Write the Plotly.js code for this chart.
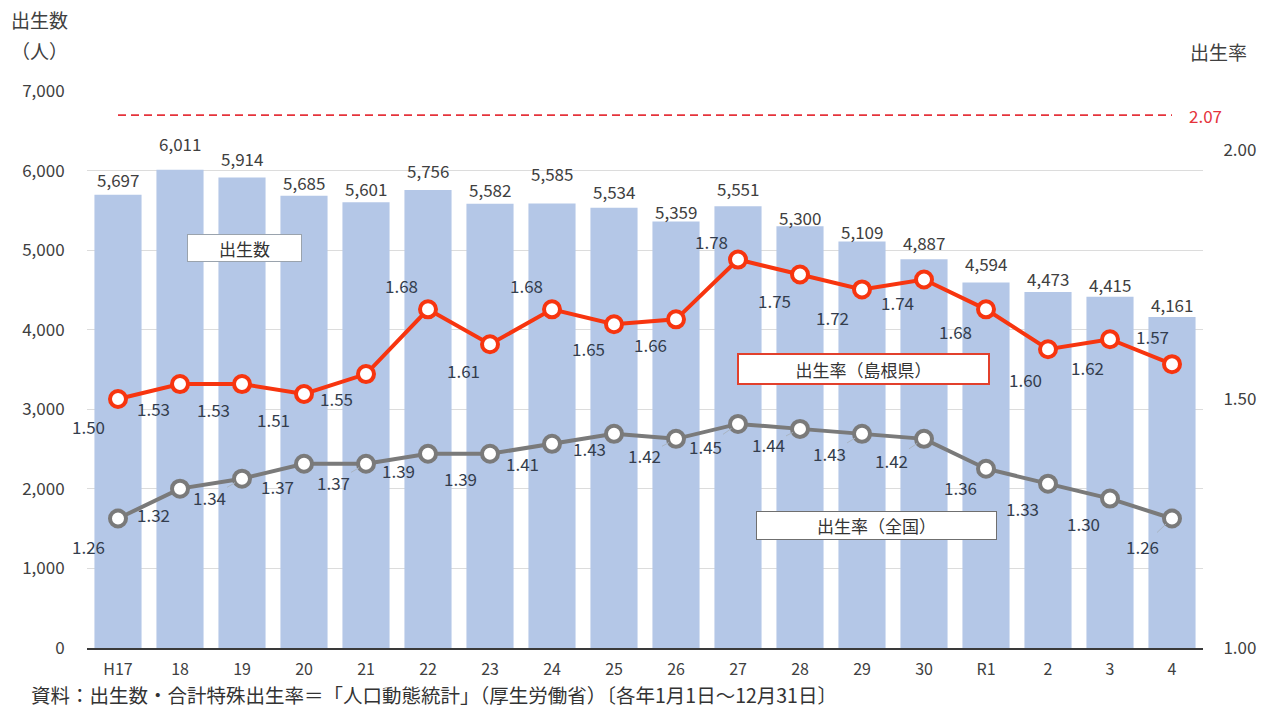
<!DOCTYPE html>
<html>
<head>
<meta charset="utf-8">
<script src="https://cdn.plot.ly/plotly-3.0.1.min.js"></script>
<style>
  html, body { margin: 0; padding: 0; background: #ffffff; }
  #chart { width: 1263px; height: 710px; }
</style>
</head>
<body>
<div id="chart"></div>
<script>
// ---- data ----
const categories = ['H17','18','19','20','21','22','23','24','25','26','27','28','29','30','R1','2','3','4'];
const births = [5697, 6011, 5914, 5685, 5601, 5756, 5582, 5585, 5534, 5359, 5551, 5300, 5109, 4887, 4594, 4473, 4415, 4161];
const rateShimane = [1.50, 1.53, 1.53, 1.51, 1.55, 1.68, 1.61, 1.68, 1.65, 1.66, 1.78, 1.75, 1.72, 1.74, 1.68, 1.60, 1.62, 1.57];
const rateNational = [1.26, 1.32, 1.34, 1.37, 1.37, 1.39, 1.39, 1.41, 1.43, 1.42, 1.45, 1.44, 1.43, 1.42, 1.36, 1.33, 1.30, 1.26];
const replacementRate = [2.07, 2.07];
const replacementSpan = [categories[0], categories[categories.length - 1]];

// ---- label placement (pixel offsets from each point) ----
const barLabelLift = [15, 26, 19, 13, 14, 19, 14, 30, 16, 10, 18, 9, 10, 17, 19, 14, 12, 12];
const shimaneDx = [-30, -27, -29, -31, -30, -27, -27, -26, -26, -26, -27, -26, -30, -27, -31, -23, -23, -20];
const shimaneDy = [ 27,  24,  25,  25,  24, -24,  26, -24,  24,  25, -18,  26,  28,  23,  22,  30,  28, -28];
const nationalDx = [-30, -27, -33, -27, -33, -30, -30, -30, -25, -32, -33, -32, -33, -33, -26, -26, -27, -30];
const nationalDy = [ 28,  26,  19,  23,  19,  17,  25,  20,  15,  17,  23,  16,  20,  22,  19,  25,  25,  28];
const nationalLeader = [false, false, true, false, true, false, false, false, false, true, true, true, true, true, false, false, false, true];

// ---- layout geometry ----
const W = 1263, H = 710;
const M = {l: 87, r: 60, t: 91, b: 62};
const PW = W - M.l - M.r, PH = H - M.t - M.b;
const px = v => (v - M.l) / PW;
const py = v => (H - M.b - v) / PH;
const FONT = '"Noto Sans CJK JP", "Noto Sans", sans-serif';
const RED = '#f7350f';
const GRAY = '#7a7a7a';

const traces = [
  {
    type: 'bar', x: categories, y: births, yaxis: 'y',
    marker: {color: '#b4c7e7'}, hoverinfo: 'x+y', showlegend: false
  },
  {
    type: 'scatter', mode: 'lines', x: replacementSpan, y: replacementRate, yaxis: 'y2',
    line: {color: '#e5333b', width: 1.6, dash: '8px,5px'}, showlegend: false, hoverinfo: 'skip'
  },
  {
    type: 'scatter', mode: 'lines+markers', x: categories, y: rateNational, yaxis: 'y2',
    line: {color: GRAY, width: 4},
    marker: {size: 16, color: '#ffffff', line: {color: GRAY, width: 4}},
    showlegend: false
  },
  {
    type: 'scatter', mode: 'lines+markers', x: categories, y: rateShimane, yaxis: 'y2',
    line: {color: RED, width: 4},
    marker: {size: 16, color: '#ffffff', line: {color: RED, width: 4}},
    showlegend: false
  }
];

const annotations = [];

// bar value labels (x given as category index)
births.forEach((v, i) => {
  annotations.push({
    xref: 'x', yref: 'y', x: i, y: v,
    text: v.toLocaleString('en-US'), showarrow: false,
    xanchor: 'center', yanchor: 'middle', yshift: barLabelLift[i],
    font: {family: FONT, size: 17, color: '#404040'}
  });
});

// Shimane rate labels
rateShimane.forEach((v, i) => {
  annotations.push({
    xref: 'x', yref: 'y2', x: i, y: v,
    text: v.toFixed(2), showarrow: false,
    xanchor: 'center', yanchor: 'middle',
    xshift: shimaneDx[i], yshift: -shimaneDy[i],
    font: {family: FONT, size: 17, color: '#333d4d'}
  });
});

// National rate labels (some with leader lines)
rateNational.forEach((v, i) => {
  annotations.push({
    xref: 'x', yref: 'y2', x: i, y: v,
    text: v.toFixed(2), showarrow: true,
    ax: nationalDx[i], ay: nationalDy[i],
    arrowhead: 0, arrowwidth: 1, standoff: 8,
    arrowcolor: nationalLeader[i] ? '#a9b4c2' : 'rgba(0,0,0,0)',
    font: {family: FONT, size: 17, color: '#333d4d'}
  });
});

// 2.07 label
annotations.push({
  xref: 'x', yref: 'y2', x: categories.length - 1, y: replacementRate[0],
  text: replacementRate[0].toFixed(2), showarrow: false,
  xanchor: 'center', yanchor: 'middle', xshift: 33,
  font: {family: FONT, size: 17, color: '#e5333b'}
});

// series name boxes
annotations.push({
  xref: 'paper', yref: 'paper', x: px(244.5), y: py(248), xanchor: 'center', yanchor: 'middle',
  text: '出生数', showarrow: false, width: 113, height: 26, borderpad: 0,
  bgcolor: '#ffffff', bordercolor: '#9aa3ad', borderwidth: 1,
  font: {family: FONT, size: 17, color: '#333333'}
});
annotations.push({
  xref: 'paper', yref: 'paper', x: px(863.5), y: py(369), xanchor: 'center', yanchor: 'middle',
  text: '出生率（島根県）', showarrow: false, width: 249, height: 28, borderpad: 0,
  bgcolor: '#ffffff', bordercolor: '#e2402c', borderwidth: 2,
  font: {family: FONT, size: 17, color: '#333333'}
});
annotations.push({
  xref: 'paper', yref: 'paper', x: px(876.5), y: py(525.5), xanchor: 'center', yanchor: 'middle',
  text: '出生率（全国）', showarrow: false, width: 239, height: 27, borderpad: 0,
  bgcolor: '#ffffff', bordercolor: '#6f6f6f', borderwidth: 1,
  font: {family: FONT, size: 17, color: '#333333'}
});

// axis titles
annotations.push({
  xref: 'paper', yref: 'paper', x: px(9), y: py(19), xanchor: 'left', yanchor: 'middle',
  text: '出生数', showarrow: false, font: {family: FONT, size: 19, color: '#404040'}
});
annotations.push({
  xref: 'paper', yref: 'paper', x: px(9), y: py(51), xanchor: 'left', yanchor: 'middle',
  text: '（人）', showarrow: false, font: {family: FONT, size: 19, color: '#404040'}
});
annotations.push({
  xref: 'paper', yref: 'paper', x: px(1188), y: py(52), xanchor: 'left', yanchor: 'middle',
  text: '出生率', showarrow: false, font: {family: FONT, size: 19, color: '#404040'}
});

// source note
annotations.push({
  xref: 'paper', yref: 'paper', x: px(30), y: py(694), xanchor: 'left', yanchor: 'middle',
  text: '資料：出生数・合計特殊出生率＝「人口動態統計」（厚生労働省）〔各年1月1日～12月31日〕',
  showarrow: false, borderpad: 0, font: {family: FONT, size: 19.5, color: '#333333'}
});

const layout = {
  width: W, height: H,
  margin: M,
  paper_bgcolor: '#ffffff', plot_bgcolor: '#ffffff',
  font: {family: FONT, size: 17, color: '#404040'},
  bargap: 0.24,
  showlegend: false,
  xaxis: {
    type: 'category', range: [-0.5, categories.length - 0.5],
    showgrid: false, zeroline: false,
    showline: true, linecolor: '#3a3a3a', linewidth: 1.5,
    ticks: 'outside', ticklen: 6, tickcolor: 'rgba(0,0,0,0)',
    tickfont: {family: FONT, size: 16, color: '#404040'}
  },
  yaxis: {
    range: [0, 7000], tickvals: [0, 1000, 2000, 3000, 4000, 5000, 6000, 7000],
    tickformat: ',d',
    showgrid: true, gridcolor: '#dcdcdc', gridwidth: 1, zeroline: false,
    ticks: 'outside', ticklen: 18, tickcolor: 'rgba(0,0,0,0)',
    tickfont: {family: FONT, size: 17, color: '#404040'}
  },
  yaxis2: {
    overlaying: 'y', side: 'right',
    range: [1, 1 + PH / 498],
    tickvals: [1.0, 1.5, 2.0], ticktext: ['1.00', '1.50', '2.00'],
    showgrid: false, zeroline: false,
    ticks: 'outside', ticklen: 16, tickcolor: 'rgba(0,0,0,0)',
    tickfont: {family: FONT, size: 17, color: '#404040'}
  },
  annotations: annotations
};

Plotly.newPlot('chart', traces, layout, {displayModeBar: false, responsive: false});
</script>
</body>
</html>
